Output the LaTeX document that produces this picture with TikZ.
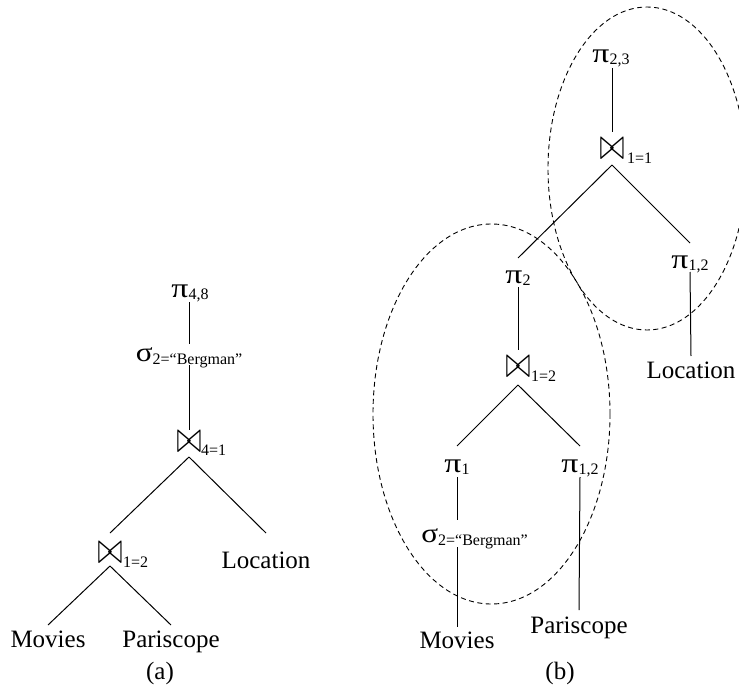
\documentclass[tikz,border=0pt]{standalone}
\usepackage{fontspec}
\usepackage{graphicx}
\setmainfont{Liberation Serif}
\newcommand{\bt}{\resizebox{25pt}{21pt}{$\bowtie$}}
\newcommand{\pii}{\scalebox{1.35}[1.1]{π}}
\newcommand{\sgm}{\scalebox{1.25}[1.08]{σ}}
\newcommand{\sbf}{\fontsize{16}{16}\selectfont}
\tikzset{
  lab/.style={inner sep=0pt, outer sep=0pt, anchor=base, font=\fontsize{25}{30}\selectfont},
  edge/.style={line width=1pt},
  grp/.style={line width=0.9pt, dash pattern=on 5pt off 3.5pt}
}
\begin{document}
\begin{tikzpicture}[x=1pt,y=-1pt]
\useasboundingbox (0,0) rectangle (739,690);
% groups
\draw[grp] (647,168.5) ellipse [x radius=99pt, y radius=161.5pt];
\draw[grp] (491.5,414) ellipse [x radius=118.5pt, y radius=190pt];
% (a)
\node[lab, text depth=5pt] (p48) at (190,297) {\pii\raisebox{-2pt}{\sbf 4,8}};
\node[lab, text height=17pt, text depth=4pt] (s1) at (189,361) {\sgm\raisebox{-3pt}{\sbf 2=“Bergman”}};
\node[lab, text height=22pt, text depth=5pt] (j41) at (189,452) {\bt};
\node[lab, anchor=base west] (j41s) at (201,455) {\sbf 4=1};
\node[lab, text height=30pt, text depth=3pt] (j12a) at (110,563) {\bt};
\node[lab, anchor=base west] (j12as) at (123,567) {\sbf 1=2};
\node[lab, text height=35pt] (loca) at (266,568) {Location};
\node[lab, text height=22pt] (mova) at (48,647) {Movies};
\node[lab, text height=22pt] (para) at (171,647) {Pariscope};
\node[lab] (capa) at (160,679) {(a)};
% (b)
\node[lab, text depth=5pt] (p23) at (611,63) {\pii\raisebox{-2pt}{\sbf 2,3}};
\node[lab, text height=28pt, text depth=5pt] (j11) at (612,160) {\bt};
\node[lab, anchor=base west] (j11s) at (627,164) {\sbf 1=1};
\node[lab, text height=25pt, text depth=4pt] (p2) at (518,283) {\pii\raisebox{-2pt}{\sbf 2}};
\node[lab, text height=25pt, text depth=4pt] (p12r) at (690,268) {\pii\raisebox{-2pt}{\sbf 1,2}};
\node[lab, text height=22pt] (locb) at (691,378) {Location};
\node[lab, text height=27pt, text depth=8pt] (j12b) at (518,377) {\bt};
\node[lab, anchor=base west] (j12bs) at (531,381) {\sbf 1=2};
\node[lab, text height=26pt, text depth=5pt] (p1) at (457,472) {\pii\raisebox{-2pt}{\sbf 1}};
\node[lab, text height=26pt, text depth=5pt] (p12l) at (580,472) {\pii\raisebox{-2pt}{\sbf 1,2}};
\node[lab, text height=22pt, text depth=5pt] (s2) at (474.5,542) {\sgm\raisebox{-3pt}{\sbf 2=“Bergman”}};
\node[lab, text height=21pt] (movb) at (457,648) {Movies};
\node[lab, text height=23pt] (parb) at (579,633) {Pariscope};
\node[lab] (capb) at (560,679) {(b)};
% edges (a)
\draw[edge] (j41.north |- p48.south) -- (j41.north |- s1.north);
\draw[edge] (j41.north |- s1.south) -- (j41.north);
\draw[edge] (j41.south) -- (j12a.north);
\draw[edge] (j41.south) -- (loca.north);
\draw[edge] (j12a.south) -- (mova.north);
\draw[edge] (j12a.south) -- (para.north);
% edges (b)
\draw[edge] (j11.north |- p23.south) -- (j11.north);
\draw[edge] (j11.south) -- (p2.north);
\draw[edge] (j11.south) -- (p12r.north);
\draw[edge] (p2.south) -- (j12b.north);
\draw[edge] (p12r.south) -- (locb.north);
\draw[edge] (j12b.south) -- (p1.north);
\draw[edge] (j12b.south) -- (p12l.north);
\draw[edge] (p1.south) -- (p1.south |- s2.north);
\draw[edge] (p1.south |- s2.south) -- (movb.north);
\draw[edge] (p12l.south) -- (parb.north);
\end{tikzpicture}
\end{document}
